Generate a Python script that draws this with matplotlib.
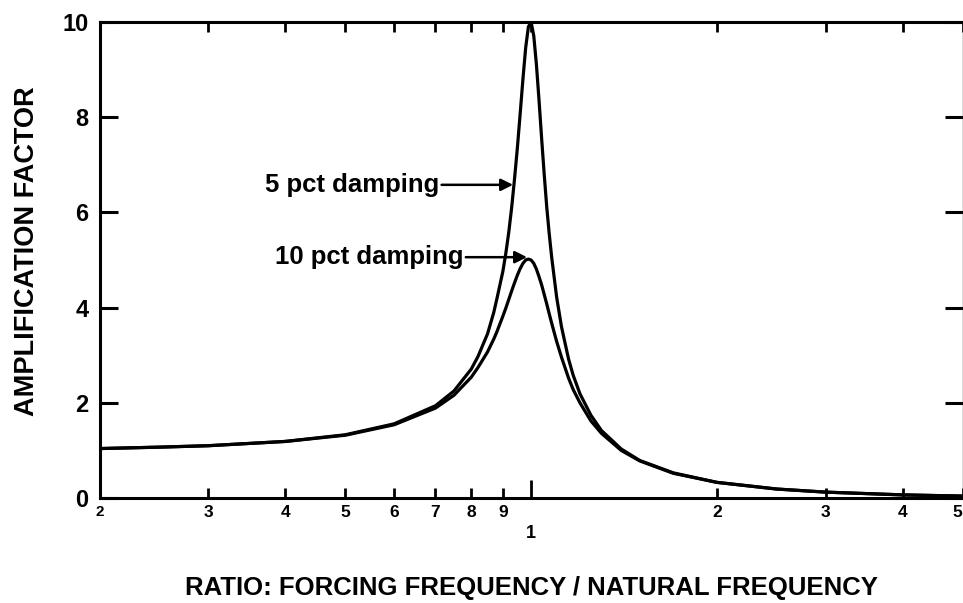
import numpy as np
import matplotlib
matplotlib.use('Agg')
import matplotlib.pyplot as plt

plt.rcParams['font.family'] = ['Liberation Sans', 'DejaVu Sans']

# ----------------------------------------------------------------------------
# data
# ----------------------------------------------------------------------------
ratio = [0.2, 0.25, 0.3, 0.4, 0.5, 0.6, 0.7, 0.75, 0.8, 0.82, 0.85, 0.87,
         0.88, 0.9, 0.91, 0.92, 0.93, 0.94, 0.95, 0.96, 0.97, 0.98, 0.99,
         1.0, 1.01, 1.02, 1.03, 1.04, 1.05, 1.06, 1.07, 1.08, 1.1, 1.12,
         1.15, 1.17, 1.2, 1.25, 1.3, 1.4, 1.5, 1.7, 2.0, 2.5, 3.0, 4.0, 5.0]
amp_5pct = [1.04, 1.07, 1.10, 1.19, 1.33, 1.56, 1.94, 2.25, 2.71, 2.97,
            3.45, 3.90, 4.18, 4.76, 5.14, 5.58, 6.10, 6.70, 7.35, 8.07,
            8.80, 9.46, 9.90, 10.0, 9.71, 9.11, 8.36, 7.56, 6.81, 6.12,
            5.55, 5.05, 4.22, 3.60, 2.92, 2.58, 2.19, 1.74, 1.42, 1.03,
            0.79, 0.53, 0.33, 0.19, 0.125, 0.067, 0.042]
amp_10pct = [1.04, 1.07, 1.10, 1.19, 1.32, 1.54, 1.89, 2.16, 2.54, 2.74,
             3.07, 3.34, 3.49, 3.82, 3.99, 4.17, 4.35, 4.52, 4.68, 4.82,
             4.93, 5.00, 5.02, 5.0, 4.93, 4.81, 4.65, 4.48, 4.28, 4.08,
             3.87, 3.67, 3.29, 2.96, 2.52, 2.28, 2.00, 1.62, 1.36, 1.00,
             0.78, 0.52, 0.33, 0.19, 0.125, 0.067, 0.042]

xtick_pos = [0.2, 0.3, 0.4, 0.5, 0.6, 0.7, 0.8, 0.9, 1.0, 2.0, 3.0, 4.0, 5.0]
xtick_lab = ['2', '3', '4', '5', '6', '7', '8', '9', '\n1', '2', '3', '4', '5']
ytick_pos = [0, 2, 4, 6, 8, 10]
ytick_lab = ['0', '2', '4', '6', '8', '10']

# ----------------------------------------------------------------------------
# figure
# ----------------------------------------------------------------------------
fig = plt.figure(figsize=(9.63, 6.03), dpi=100)
ax = fig.add_axes([0.1035, 0.174, 0.896, 0.7895])

lw = 2.3
ax.plot(ratio, amp_5pct, color='k', linewidth=lw, solid_joinstyle='round')
ax.plot(ratio, amp_10pct, color='k', linewidth=lw, solid_joinstyle='round')

ax.set_xscale('log')
ax.set_xlim(0.2, 5.0)
ax.set_ylim(0, 10)

ax.set_xticks(xtick_pos)
ax.set_xticklabels(xtick_lab)
ax.xaxis.set_minor_locator(matplotlib.ticker.NullLocator())
ax.set_yticks(ytick_pos)
ax.set_yticklabels(ytick_lab)

ax.tick_params(axis='x', which='major', direction='in', length=7, width=2,
               top=True, pad=5, labelsize=12.5)
ax.tick_params(axis='y', which='major', direction='in', length=13, width=2.2,
               right=True, pad=8, labelsize=17)

for lab in ax.get_xticklabels() + ax.get_yticklabels():
    lab.set_fontweight('bold')

# individual tick tweaks
xt = ax.xaxis.get_major_ticks()
xt[0].label1.set_fontsize(11)
xt[8].label1.set_fontsize(13)
xt[8].tick1line.set_markersize(13)
xt[-1].label1.set_horizontalalignment('right')

for side in ['left', 'bottom', 'top']:
    ax.spines[side].set_linewidth(2.2)
ax.spines['right'].set_linewidth(1.0)
ax.spines['right'].set_color('#444444')

# labels
ax.set_xlabel('RATIO: FORCING FREQUENCY / NATURAL FREQUENCY', fontsize=18.5,
              fontweight='bold', labelpad=25)
ax.set_ylabel('AMPLIFICATION FACTOR', fontsize=19.5, fontweight='bold',
              labelpad=16)
ax.yaxis.label.set_y(0.518)

# annotations
arrow = dict(arrowstyle='-|>', color='k', lw=1.8, mutation_scale=18,
             shrinkA=0, shrinkB=0)
ax.annotate('5 pct damping', xy=(0.935, 6.58), xytext=(0.370, 6.58),
            textcoords='data', fontsize=18.5, fontweight='bold',
            va='center', ha='left', arrowprops=arrow)
ax.annotate('10 pct damping', xy=(0.985, 5.06), xytext=(0.384, 5.06),
            textcoords='data', fontsize=18.5, fontweight='bold',
            va='center', ha='left', arrowprops=arrow)

fig.savefig('out.png', dpi=100)
